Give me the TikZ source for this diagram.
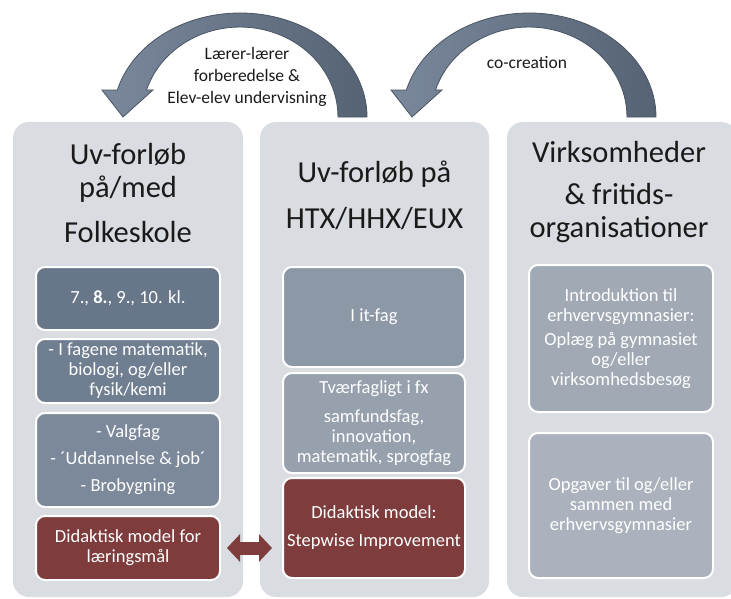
\documentclass[tikz,border=0pt]{standalone}
\usepackage{fontspec}
\setmainfont{Carlito}
\usetikzlibrary{arrows.meta}

\definecolor{panelgrey}{HTML}{D9DCE0}
\definecolor{slatea}{HTML}{687689}
\definecolor{slateb}{HTML}{707E92}
\definecolor{slatec}{HTML}{7C899B}
\definecolor{slated}{HTML}{8D98A7}
\definecolor{slatee}{HTML}{97A1AE}
\definecolor{slatef}{HTML}{A1A9B5}
\definecolor{slateg}{HTML}{ABB2BD}
\definecolor{wine}{HTML}{7F3C3D}
\definecolor{arrowlight}{HTML}{7A889C}
\definecolor{arrowdark}{HTML}{566374}
\definecolor{arrowline}{HTML}{4A5563}
\definecolor{inktext}{HTML}{1A1A1A}

\tikzset{
	colpanel/.style={fill=panelgrey, rounded corners=16pt, minimum width=230pt, minimum height=475pt, inner sep=0pt},
	coltitle/.style={text=inktext, align=center, font=\fontsize{30.5}{33}\selectfont},
	inbox/.style={draw=white, line width=2pt, rounded corners=9pt, text=white, align=center, inner sep=0pt, minimum width=184pt, font=\fontsize{18.5}{20}\selectfont},
	curved/.style={draw=arrowline, line width=0.8pt, left color=arrowlight, right color=arrowdark},
	arclabel/.style={text=inktext, align=center, font=\fontsize{17.5}{22}\selectfont},
	twoway/.style={wine, line width=13pt, {Triangle[width=27pt,length=13pt]}-{Triangle[width=27pt,length=13pt]}, shorten <=6pt, shorten >=10pt}
}

\begin{document}
\begin{tikzpicture}[x=1pt,y=-1pt]
	\useasboundingbox (0,0) rectangle (731,599);

	% columns
	\node[colpanel] (folk) at (128,359.5) {};
	\node[colpanel, minimum width=229pt] (htx) at (374.5,359.5) {};
	\node[colpanel] (virk) at (622,359.5) {};

	% titles
	\node[coltitle] (folkT) at (128,193) {Uv-forløb\\på/med\\[12pt]Folkeskole};
	\node[coltitle] (htxT) at (374.5,195) {Uv-forløb på\\[13pt]HTX/HHX/EUX};
	\node[coltitle] (virkT) at (619,192) {Virksomheder\\[9pt]\& fritids-\\organisationer};

	% Folkeskole
	\node[inbox, fill=slatea, minimum height=63pt] (folkA) at (128,298.5) {7., \textbf{8.}, 9., 10. kl.};
	\node[inbox, fill=slateb, minimum height=64pt] (folkB) at (128,371) {- I fagene matematik,\\biologi, og/eller\\fysik/kemi};
	\node[inbox, fill=slatec, minimum height=94pt] (folkC) at (128,460) {- Valgfag\\[7pt]- ´Uddannelse \& job´\\[7pt]- Brobygning};
	\node[inbox, fill=wine, minimum height=64pt] (folkD) at (128,548) {Didaktisk model for\\læringsmål};

	% HTX/HHX/EUX
	\node[inbox, fill=slated, minimum width=182pt, minimum height=100pt] (htxA) at (374,317) {I it-fag};
	\node[inbox, fill=slatee, minimum width=182pt, minimum height=100pt] (htxB) at (374,423) {Tværfagligt i fx\\[9pt]samfundsfag,\\innovation,\\matematik, sprogfag};
	\node[inbox, fill=wine, minimum width=182pt, minimum height=100pt] (htxC) at (374,528) {Didaktisk model:\\[8pt]Stepwise Improvement};

	% Virksomheder
	\node[inbox, fill=slatef, minimum height=147pt] (virkA) at (621,338.5) {Introduktion til\\erhvervsgymnasier:\\[4pt]Oplæg på gymnasiet\\og/eller\\virksomhedsbesøg};
	\node[inbox, fill=slateg, minimum height=145pt] (virkB) at (621,505.5) {Opgaver til og/eller\\sammen med\\erhvervsgymnasier};

	% <->
	\draw[twoway] (folkD.east) -- (folkD.east -| htxC.west);

	% curved arrows
	\path[curved] (367,117) arc[start angle=0, end angle=165, x radius=127pt, y radius=104pt]
		-- (102,90) -- (123,117) -- (153,90) -- (146.5,90)
		arc[start angle=162.5, end angle=0, x radius=98pt, y radius=90pt] -- cycle;
	\begin{scope}[shift={(289,0)}]
		\path[curved] (367,117) arc[start angle=0, end angle=165, x radius=127pt, y radius=104pt]
			-- (102,90) -- (123,117) -- (153,90) -- (146.5,90)
			arc[start angle=162.5, end angle=0, x radius=98pt, y radius=90pt] -- cycle;
	\end{scope}

	% labels
	\node[arclabel] (share) at (247,77) {Lærer-lærer\\forberedelse \&\\Elev-elev undervisning};
	\node[arclabel] (cocre) at (527,63) {co-creation};
\end{tikzpicture}
\end{document}
